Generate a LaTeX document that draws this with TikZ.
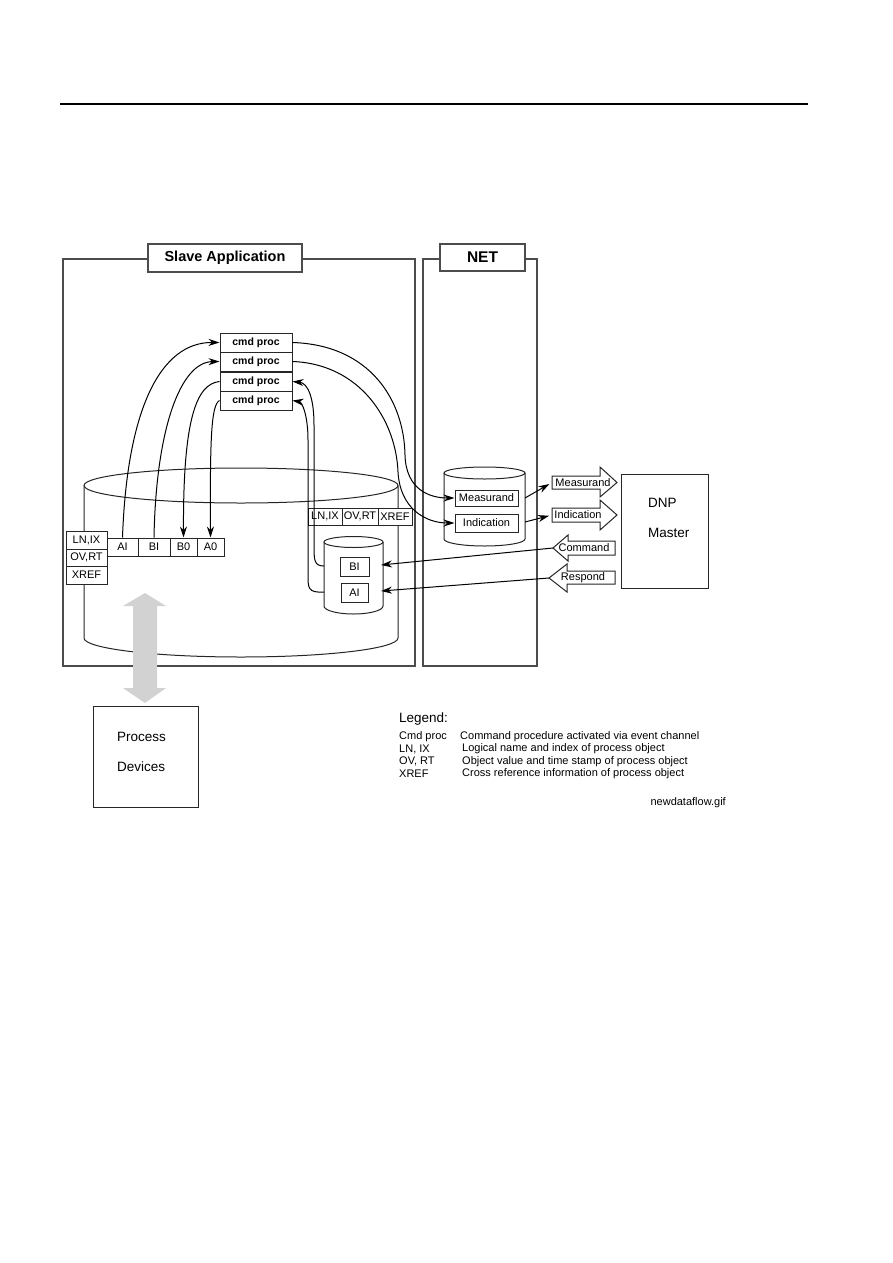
\documentclass[tikz,border=0pt]{standalone}
\usepackage{fontspec}
\setmainfont{Liberation Sans}
\usetikzlibrary{arrows.meta}
\newcommand\myfs[1]{\fontsize{#1}{#1}\selectfont}
\begin{document}
\begin{tikzpicture}[x=1pt,y=-1pt,
  frame/.style={draw=black!70, line width=1.3pt},
  titlebox/.style={draw=black!70, line width=1.3pt, fill=white, inner sep=0pt, font=\bfseries\myfs{14.5}},
  cell/.style={draw=black!85, line width=1pt, fill=white, inner sep=0pt, font=\myfs{11}},
  cmdbox/.style={cell, minimum width=72pt, minimum height=19pt, font=\bfseries\myfs{10.5}},
  cyl/.style={draw=black!85, line width=1pt, fill=white},
  arr/.style={line width=1pt, -{Stealth[length=11pt,width=7pt]}},
  blk/.style={draw=black!85, line width=1pt, fill=white},
  lbl/.style={inner sep=0pt, font=\myfs{11}},
  leg/.style={inner sep=0pt, anchor=west, font=\myfs{11}}]
\useasboundingbox (0,0) rectangle (893,1263);
% top rule
\draw[line width=1.3pt] (60,104) -- (808,104);

% frames
\draw[frame] (148,259) -- (63,259) -- (63,666) -- (415,666) -- (415,259) -- (302,259);
\draw[frame] (440,259) -- (423,259) -- (423,666) -- (537,666) -- (537,259) -- (525,259);
\node[titlebox, minimum width=154pt, minimum height=28pt] (slvT) at (225,258) {Slave Application};
\node[titlebox, minimum width=85pt, minimum height=27pt, font=\bfseries\myfs{15.5}] (netT) at (482.5,257.5) {NET};

% big cylinder
\draw[cyl] (84,485.5) -- (84,638) arc[start angle=180, end angle=0, x radius=157, y radius=19] -- (398,485.5);
\draw[cyl, fill=none] (241,485.5) ellipse [x radius=157, y radius=17.5];

% left stack and object row
\node[cell, minimum width=41pt, minimum height=18pt] (lnixA) at (86.5,540) {LN,IX};
\node[cell, minimum width=41pt, minimum height=17pt] (ovrtA) at (86.5,557.5) {OV,RT};
\node[cell, minimum width=41pt, minimum height=18pt] (xrefA) at (86.5,575) {XREF};
\node[cell, minimum width=31pt, minimum height=18pt] (ai) at (122.5,547) {AI};
\node[cell, minimum width=32pt, minimum height=18pt] (bi) at (154,547) {BI};
\node[cell, minimum width=27pt, minimum height=18pt] (bo) at (183.5,547) {B0};
\node[cell, minimum width=27pt, minimum height=18pt] (ao) at (210.5,547) {A0};

% header row right
\node[cell, minimum width=34pt, minimum height=17pt] (lnixB) at (325,516.5) {LN,IX};
\node[cell, minimum width=36pt, minimum height=17pt] (ovrtB) at (360,516.5) {OV,RT};
\node[cell, minimum width=34pt, minimum height=17pt] (xrefB) at (395,516.5) {XREF};

% small cylinder
\draw[cyl] (324,542) -- (324,606) arc[start angle=180, end angle=0, x radius=29.5, y radius=8] -- (383,542);
\draw[cyl] (353.5,542) ellipse [x radius=29.5, y radius=5.5];
\node[cell, minimum width=29pt, minimum height=19pt] (bi2) at (354.5,566.5) {BI};
\node[cell, minimum width=27pt, minimum height=19pt] (ai2) at (354.5,592.5) {AI};
\coordinate (sL1) at (324,566);
\coordinate (sL2) at (324,592);
\coordinate (sR1) at (381,565);
\coordinate (sR2) at (381,591);

% cmd proc boxes
\node[cmdbox] (c1) at (256,342.5) {cmd proc};
\node[cmdbox] (c2) at (256,361.5) {cmd proc};
\node[cmdbox] (c3) at (256,381.5) {cmd proc};
\node[cmdbox] (c4) at (256,400.5) {cmd proc};

% NET cylinder
\draw[cyl] (444,473) -- (444,539) arc[start angle=180, end angle=0, x radius=40.5, y radius=7] -- (525,473);
\draw[cyl] (484.5,473) ellipse [x radius=40.5, y radius=6];
\node[cell, minimum width=63pt, minimum height=16pt] (meas) at (486.5,498) {Measurand};
\node[cell, minimum width=63pt, minimum height=18pt] (indi) at (486.5,523) {Indication};
\coordinate (nR1) at (525,498);
\coordinate (nR2) at (525,522);

% curves left
\draw[arr] (ai.north) .. controls (127,410) and (160,342) .. (c1.west);
\draw[arr] (bi.north) .. controls (156,430) and (180,362) .. (c2.west);
\draw[arr] (c3.west) .. controls (196,384) and (183,420) .. (bo.north);
\draw[arr] (c4.west) .. controls (211,405) and (210,440) .. (ao.north);

% curves right to NET
\draw[arr] (c1.east) .. controls (370,345) and (404,400) .. (405,455) .. controls (406,490) and (430,498) .. (meas.west);
\draw[arr] (c2.east) .. controls (360,364) and (396,420) .. (398,472) .. controls (400,508) and (425,523) .. (indi.west);

% curves from small cylinder back to cmd proc
\draw[arr] (sL1) .. controls (314,566) and (314,560) .. (314,545) -- (314,425) .. controls (314,398) and (308,383) .. (c3.east);
\draw[arr] (sL2) .. controls (308,593) and (308,588) .. (308,575) -- (308,440) .. controls (308,415) and (302,402) .. (c4.east);

% block arrows
\draw[blk] (552,476) -- (600,476) -- (600,467) -- (617,482.5) -- (600,497) -- (600,489) -- (552,489) -- cycle;
\draw[blk] (552,508) -- (600,508) -- (600,500) -- (617,515) -- (600,530) -- (600,522) -- (552,522) -- cycle;
\draw[blk] (615,541) -- (568,541) -- (568,535) -- (553,548) -- (568,561) -- (568,555) -- (615,555) -- cycle;
\draw[blk] (615,571) -- (567,571) -- (567,564) -- (549,578) -- (567,592) -- (567,584) -- (615,584) -- cycle;
\node[lbl] (mA) at (583,482.5) {Measurand};
\node[lbl] (iA) at (578,515) {Indication};
\node[lbl] (cA) at (584,548) {Command};
\node[lbl] (rA) at (583,577.5) {Respond};
\coordinate (mIn) at (552,482.5);
\coordinate (iIn) at (552,515);
\coordinate (cTip) at (553,548);
\coordinate (rTip) at (549,578);

\draw[arr, shorten >=3pt] (nR1) -- (mIn);
\draw[arr, shorten >=3pt] (nR2) -- (iIn);
\draw[arr] (cTip) -- (sR1);
\draw[arr] (rTip) -- (sR2);

% DNP master
\node[cell, minimum width=87pt, minimum height=114pt] (dnp) at (664.5,531) {};
\node[lbl, anchor=west, font=\myfs{13.5}] (dnpT) at (648,503) {DNP};
\node[lbl, anchor=west, font=\myfs{13.5}] (mstT) at (648,533) {Master};

% grey double arrow
\fill[gray!35] (145,593) -- (166,606) -- (157,606) -- (157,688) -- (166,688) -- (145,703) -- (123,688) -- (133,688) -- (133,606) -- (123,606) -- cycle;

% process devices
\node[cell, minimum width=105pt, minimum height=101pt] (proc) at (145.5,756.5) {};
\node[lbl, anchor=west, font=\myfs{13.5}] (procT) at (117,737) {Process};
\node[lbl, anchor=west, font=\myfs{13.5}] (devT) at (117,767) {Devices};

% legend
\node[leg, font=\myfs{13.5}] (legT) at (399,719) {Legend:};
\node[leg] (l1a) at (399,736.5) {Cmd proc};
\node[leg] (l1b) at (460,736.5) {Command procedure activated via event channel};
\node[leg] (l2a) at (399,749) {LN, IX};
\node[leg] (l2b) at (462,749) {Logical name and index of process object};
\node[leg] (l3a) at (399,761.5) {OV, RT};
\node[leg] (l3b) at (462,761.5) {Object value and time stamp of process object};
\node[leg] (l4a) at (399,774) {XREF};
\node[leg] (l4b) at (462,774) {Cross reference information of process object};
\node[leg, anchor=east] (fname) at (726,803) {newdataflow.gif};
\end{tikzpicture}
\end{document}
